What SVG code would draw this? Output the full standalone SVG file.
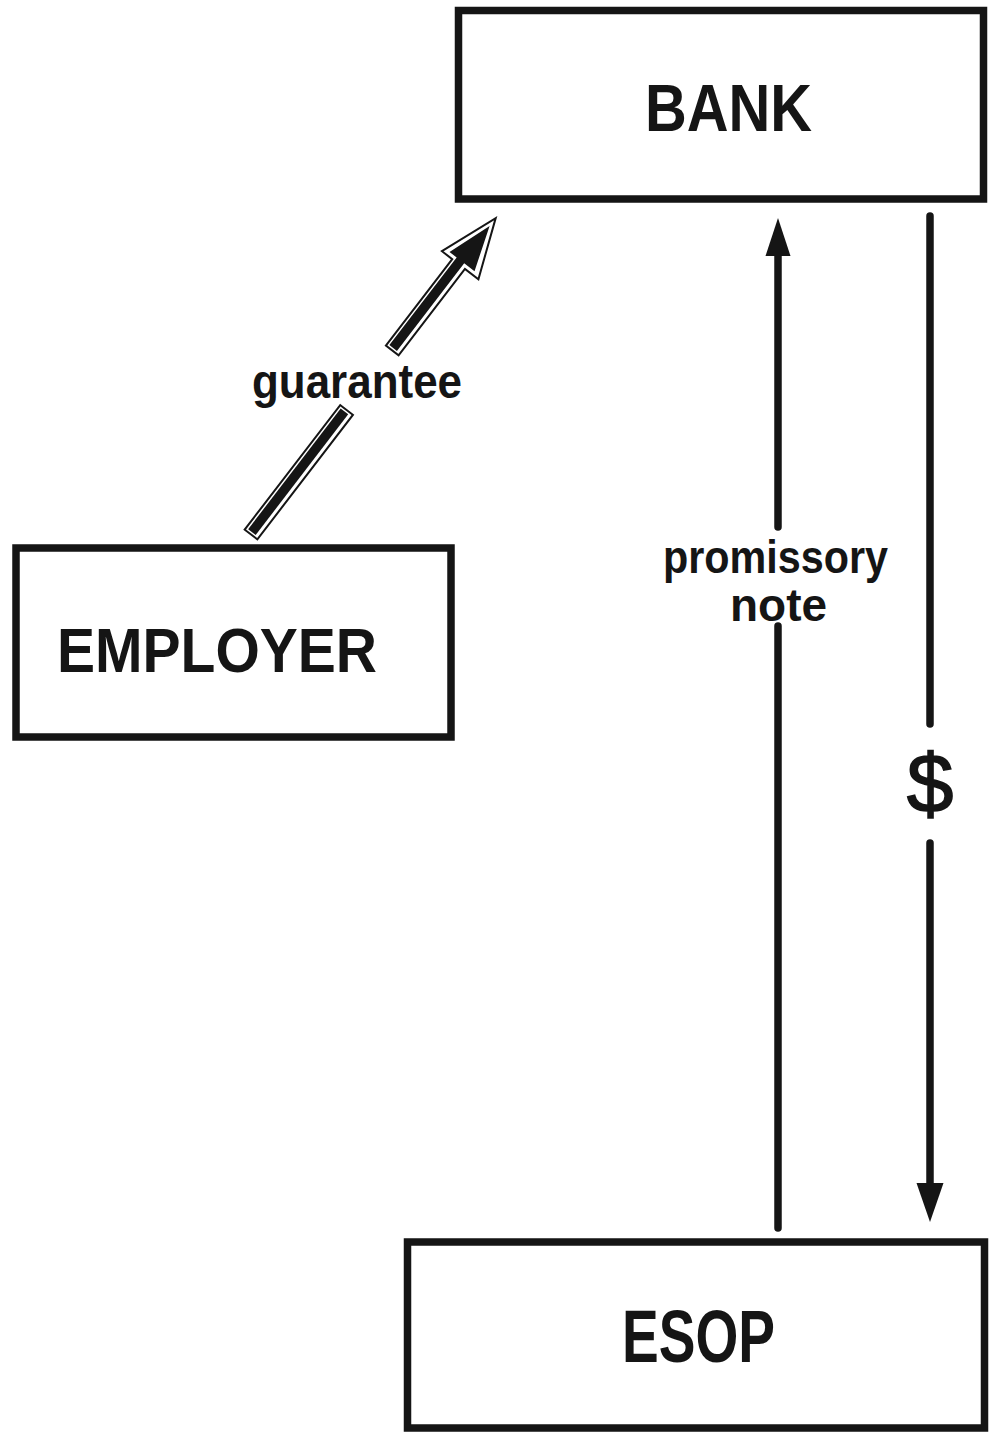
<svg xmlns="http://www.w3.org/2000/svg" width="990" height="1433" viewBox="0 0 990 1433">
<style>
.box{fill:#fff;stroke:#151515;stroke-width:7.5}
.lbl{font-family:"Liberation Sans",Arial,sans-serif;font-weight:bold;fill:#151515;text-anchor:middle}
.line{stroke:#151515;stroke-width:7.5;stroke-linecap:round;fill:none}
.head{fill:#151515}
.outline{fill:#fff;stroke:#151515;stroke-width:2;stroke-linejoin:miter}
.core{fill:#151515}
</style>
<rect width="990" height="1433" fill="#fff"/>
<g id="bank">
<rect class="box" x="458.5" y="10.5" width="525" height="188.5"/>
<text class="lbl" x="728.5" y="131" font-size="67" textLength="167" lengthAdjust="spacingAndGlyphs">BANK</text>
</g>
<g id="employer">
<rect class="box" x="16" y="548" width="435" height="189"/>
<text class="lbl" x="217" y="672" font-size="63" textLength="320" lengthAdjust="spacingAndGlyphs">EMPLOYER</text>
</g>
<g id="esop">
<rect class="box" x="407.5" y="1242" width="577" height="186"/>
<text class="lbl" x="698.5" y="1362" font-size="74" textLength="153" lengthAdjust="spacingAndGlyphs">ESOP</text>
</g>
<g id="connectors">
<g id="guarantee-arrow" transform="translate(251,534.5) rotate(-52.5)">
<rect class="outline" x="0" y="-8" width="157" height="16"/>
<rect class="core" x="2.5" y="-5.5" width="152" height="9.5"/>
<polygon class="outline" points="232,-8 341,-8 341,-21 400,1.5 341,25 341,8 232,8"/>
<polygon class="core" points="234.5,-5.5 345,-5.5 345,-14.5 390,1.5 345,17 345,4 234.5,4"/>
</g>
<text class="lbl" x="357" y="398" font-size="48" textLength="210" lengthAdjust="spacingAndGlyphs">guarantee</text>
<g id="note-arrow">
<line class="line" x1="778" y1="1228" x2="778" y2="626"/>
<line class="line" x1="778" y1="527" x2="778" y2="252"/>
<polygon class="head" points="778,218 790.5,256 765.5,256"/>
<text class="lbl" x="775.5" y="573" font-size="46" textLength="225" lengthAdjust="spacingAndGlyphs">promissory</text>
<text class="lbl" x="778.5" y="621" font-size="46" textLength="97" lengthAdjust="spacingAndGlyphs">note</text>
</g>
<g id="money-arrow">
<line class="line" x1="930" y1="216" x2="930" y2="724"/>
<line class="line" x1="930" y1="843" x2="930" y2="1188"/>
<polygon class="head" points="916.5,1183 943.5,1183 930,1222"/>
<text x="930" y="812" font-family="Liberation Sans,Arial,sans-serif" font-size="84" fill="#151515" stroke="#151515" stroke-width="1.5" text-anchor="middle">$</text>
</g>
</g>
</svg>
